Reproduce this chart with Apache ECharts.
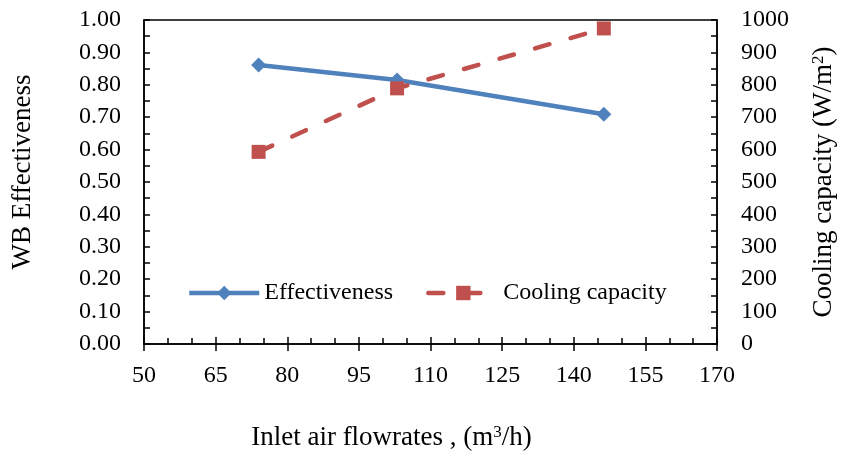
<!DOCTYPE html>
<html><head><meta charset="utf-8">
<script src="https://cdn.jsdelivr.net/npm/echarts@6/dist/echarts.min.js"></script>
<style>html,body{margin:0;padding:0;background:#fff}#c{width:842px;height:454px}</style>
</head><body><div id="c"></div>
<script>
const flowrates = [74, 103, 146.3];
const effectiveness = [0.861, 0.815, 0.709];
const coolingCapacity = [593, 789, 974];
const xTicks = [50, 65, 80, 95, 110, 125, 140, 155, 170];

const font = 'Liberation Serif, Times New Roman, serif';
const chart = echarts.init(document.getElementById('c'));
const pairs = (xs, ys) => xs.map((x, i) => [x, ys[i]]);
const rich = {
  t: {fontFamily: font, fontSize: 27, color: '#000'},
  sup: {fontFamily: font, fontSize: 17, color: '#000', verticalAlign: 'top', padding: [0, 0, 8, 0]}
};
chart.setOption({
  animation: false,
  grid: {left: 144, right: 125, top: 20, bottom: 110, show: true, borderColor: '#000', borderWidth: 1.5, outerBoundsMode: 'none', containLabel: false},
  legend: {
    left: 187, top: 281, padding: 0, itemWidth: 70, itemHeight: 18, itemGap: 33,
    textStyle: {fontFamily: font, fontSize: 24, color: '#000'},
    data: [
      {name: 'Effectiveness', lineStyle: {width: 4.5}},
      {name: 'Cooling capacity', lineStyle: {width: 4.5}}
    ]
  },
  xAxis: [{
    type: 'value', min: 50, max: 170, interval: 15,
    name: '{t|Inlet air flowrates , (m}{sup|3}{t|/h)}', nameLocation: 'middle', nameGap: 80,
    nameTextStyle: {fontFamily: font, fontSize: 27, color: '#000', rich: rich, padding: [0, 78, 0, 0]},
    axisLine: {show: true, lineStyle: {color: '#000', width: 1.5}},
    axisTick: {show: true, inside: true, length: 7, lineStyle: {color: '#000', width: 1.5}},
    minorTick: {show: true, splitNumber: 3, length: 6, lineStyle: {color: '#000', width: 1.5}},
    axisLabel: {fontFamily: font, fontSize: 24, color: '#000', margin: 20, formatter: v => xTicks.includes(v) ? String(v) : ''},
    splitLine: {show: false}
  }, {
    type: 'value', min: 50, max: 170, interval: 15, position: 'bottom', offset: 0,
    axisLine: {show: false},
    axisTick: {show: true, inside: false, length: 7, lineStyle: {color: '#000', width: 1.5}},
    axisLabel: {show: false}, splitLine: {show: false}
  }],
  yAxis: [{
    type: 'value', min: 0, max: 1, interval: 0.1, position: 'left',
    name: 'WB Effectiveness', nameLocation: 'middle', nameGap: 108, nameRotate: 90,
    nameTextStyle: {fontFamily: font, fontSize: 27, color: '#000', padding: [0, 0, 0, 20]},
    axisLine: {show: true, lineStyle: {color: '#000', width: 1.5}},
    axisTick: {show: true, inside: true, length: 6, lineStyle: {color: '#000', width: 1.5}},
    minorTick: {show: true, splitNumber: 2, length: 6, lineStyle: {color: '#000', width: 1.5}},
    axisLabel: {fontFamily: font, fontSize: 24, color: '#000', margin: 23, formatter: v => v.toFixed(2)},
    splitLine: {show: false}
  }, {
    type: 'value', min: 0, max: 1000, interval: 100, position: 'right',
    name: '{t|Cooling capacity (W/m}{sup|2}{t|)}', nameLocation: 'middle', nameGap: 93, nameRotate: 90,
    nameTextStyle: {fontFamily: font, fontSize: 27, color: '#000', rich: rich},
    axisLine: {show: true, lineStyle: {color: '#000', width: 1.5}},
    axisTick: {show: true, inside: true, length: 6, lineStyle: {color: '#000', width: 1.5}},
    minorTick: {show: true, splitNumber: 2, length: 6, lineStyle: {color: '#000', width: 1.5}},
    axisLabel: {fontFamily: font, fontSize: 24, color: '#000', margin: 24, formatter: v => String(v)},
    splitLine: {show: false}
  }],
  series: [{
    name: 'Effectiveness', type: 'line', yAxisIndex: 0,
    data: pairs(flowrates, effectiveness),
    symbol: 'diamond', symbolSize: 15,
    itemStyle: {color: '#4F81BD'},
    lineStyle: {color: '#4F81BD', width: 4.5}
  }, {
    name: 'Cooling capacity', type: 'line', yAxisIndex: 1,
    data: pairs(flowrates, coolingCapacity),
    symbol: 'rect', symbolSize: 14,
    itemStyle: {color: '#C0504D'},
    lineStyle: {color: '#C0504D', width: 4.5, type: [15, 22], cap: 'round'}
  }]
});
</script></body></html>
